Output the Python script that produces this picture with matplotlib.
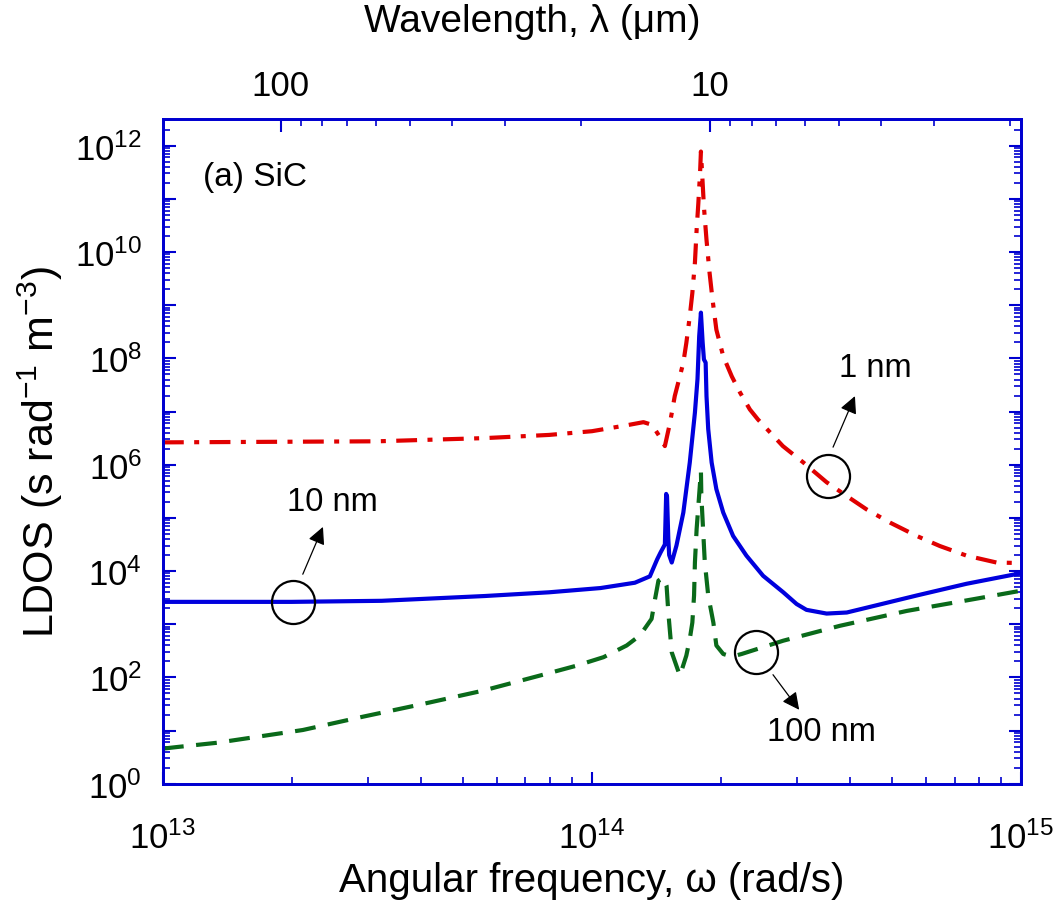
import numpy as np
import matplotlib
matplotlib.use('Agg')
import matplotlib.pyplot as plt
from matplotlib.ticker import FixedLocator, FuncFormatter, NullFormatter, LogLocator

plt.rcParams['font.family'] = ['Liberation Sans', 'DejaVu Sans']
plt.rcParams['mathtext.fontset'] = 'custom'
plt.rcParams['mathtext.rm'] = 'Liberation Sans'
plt.rcParams['mathtext.it'] = 'Liberation Sans:italic'
plt.rcParams['mathtext.bf'] = 'Liberation Sans:bold'

# ---- data: log10(omega [rad/s]) and log10(LDOS [s rad^-1 m^-3]) ----
logw_1nm = [13.0, 13.25, 13.5, 13.75, 13.9, 14.0, 14.08, 14.12, 14.14, 14.16, 14.170,
            14.182, 14.193, 14.201, 14.213, 14.220, 14.228, 14.234, 14.240, 14.244,
            14.248, 14.252, 14.254, 14.258, 14.261, 14.267, 14.274, 14.281, 14.290,
            14.306, 14.326, 14.345, 14.368, 14.387, 14.415, 14.445, 14.493, 14.547,
            14.594, 14.640, 14.695, 14.757, 14.811, 14.873, 14.943, 15.0]
logL_1nm = [6.42, 6.43, 6.44, 6.50, 6.56, 6.63, 6.74, 6.80, 6.75, 6.50, 6.35,
            6.79, 7.29, 7.54, 7.92, 8.29, 8.79, 9.23, 9.80, 10.42,
            10.92, 11.49, 11.89, 11.30, 10.85, 10.23, 9.62, 9.11, 8.54,
            8.04, 7.66, 7.36, 7.04, 6.85, 6.61, 6.35, 6.04, 5.67,
            5.41, 5.16, 4.91, 4.66, 4.47, 4.29, 4.16, 4.15]

logw_10nm = [13.0, 13.3, 13.51, 13.75, 13.9, 14.02, 14.1, 14.135, 14.152, 14.16, 14.17,
             14.173, 14.175, 14.178, 14.18, 14.186, 14.197, 14.213, 14.228, 14.240,
             14.246, 14.250, 14.254, 14.258, 14.261, 14.265, 14.267, 14.271, 14.279,
             14.290, 14.306, 14.329, 14.360, 14.399, 14.446, 14.477, 14.500, 14.547,
             14.594, 14.640, 14.757, 14.873, 15.0]
logL_10nm = [3.42, 3.42, 3.44, 3.53, 3.60, 3.68, 3.78, 3.90, 4.22, 4.35, 4.50,
             5.45, 5.40, 4.60, 4.30, 4.16, 4.48, 5.10, 6.04, 6.98,
             7.61, 8.42, 8.86, 8.30, 7.98, 7.92, 7.29, 6.67, 6.04,
             5.54, 5.10, 4.66, 4.29, 3.91, 3.60, 3.38, 3.27, 3.20,
             3.22, 3.31, 3.54, 3.76, 3.96]

logw_100nm = [13.0, 13.033, 13.126, 13.326, 13.466, 13.606, 13.746, 13.886, 13.964,
              14.027, 14.081, 14.112, 14.139, 14.147, 14.155, 14.166, 14.174, 14.178,
              14.186, 14.205, 14.220, 14.228, 14.234, 14.238, 14.240, 14.244, 14.254,
              14.255, 14.259, 14.263, 14.271, 14.283, 14.290, 14.306, 14.326, 14.349,
              14.446, 14.578, 14.734, 14.889, 15.0]
logL_100nm = [0.66, 0.69, 0.77, 1.01, 1.26, 1.50, 1.75, 2.05, 2.22,
              2.38, 2.60, 2.79, 3.10, 3.47, 3.82, 3.88, 3.72, 3.22,
              2.47, 2.03, 2.41, 2.72, 3.03, 3.54, 4.16, 4.79, 5.88,
              5.41, 4.79, 4.17, 3.54, 3.03, 2.60, 2.44, 2.39, 2.44,
              2.69, 2.97, 3.25, 3.47, 3.63]

wl_major = [100, 10]                      # wavelength ticks (um)
wl_minor = [90, 80, 70, 60, 50, 40, 30, 20, 9, 8, 7, 6, 5, 4, 3, 2]

# annotation anchors (log10 omega, log10 LDOS)
ann_labels = ['10 nm', '1 nm', '100 nm']
ann_circle = [(13.303, 3.42), (14.55, 5.78), (14.382, 2.48)]
ann_tail = [(13.326, 3.94), (14.562, 6.33), (14.422, 2.05)]
ann_tip = [(13.373, 4.83), (14.613, 7.29), (14.483, 1.39)]
ann_text = [(13.396, 5.31), (14.66, 7.83), (14.536, 0.98)]

BLUE = '#0000d0'
C0 = 2.99792458e8

fig = plt.figure(figsize=(10.58, 9.03), dpi=100)
ax = fig.add_axes([0.154, 0.131, 0.811, 0.736])

p = lambda a: np.power(10.0, np.asarray(a))
ax.plot(p(logw_1nm), p(logL_1nm), color='#e00000', lw=3.0,
        linestyle=(0, (5, 2.5, 1.2, 2.5)))
ax.plot(p(logw_10nm), p(logL_10nm), color='#0000dd', lw=3.0, linestyle='-')
ax.plot(p(logw_100nm), p(logL_100nm), color='#0a6a1a', lw=3.0,
        linestyle=(0, (5, 3)))

ax.set_xscale('log')
ax.set_yscale('log')
ax.set_xlim(1e13, 1e15)
ax.set_ylim(1e0, 10 ** 12.5)

ax.xaxis.set_major_locator(FixedLocator([1e13, 1e14, 1e15]))
ax.xaxis.set_minor_locator(LogLocator(base=10, subs=np.arange(2, 10), numticks=50))
ax.xaxis.set_minor_formatter(NullFormatter())
ax.xaxis.set_major_formatter(FuncFormatter(
    lambda v, pos: r'$\mathdefault{10^{%d}}$' % round(np.log10(v))))

ax.yaxis.set_major_locator(FixedLocator([10.0 ** k for k in range(0, 13)]))
ax.yaxis.set_minor_locator(LogLocator(base=10, subs=np.arange(2, 10), numticks=50))
ax.yaxis.set_minor_formatter(NullFormatter())

def yfmt(v, pos):
    e = int(round(np.log10(v)))
    return r'$\mathdefault{10^{%d}}$' % e if e % 2 == 0 else ''
ax.yaxis.set_major_formatter(FuncFormatter(yfmt))

ax.tick_params(which='both', direction='in', color=BLUE, labelcolor='black',
               top=False, right=True, labelsize=25)
ax.tick_params(which='major', length=9, width=1.5)
ax.tick_params(which='minor', length=5, width=1.2)
ax.tick_params(axis='x', which='major', pad=26)
ax.tick_params(axis='y', which='major', pad=15)
for s in ax.spines.values():
    s.set_color(BLUE)
    s.set_linewidth(2.0)

ax2 = ax.twiny()
ax2.set_xscale('log')
ax2.set_xlim(ax.get_xlim())
conv = lambda wl: 2 * np.pi * C0 / (np.asarray(wl, float) * 1e-6)
ax2.xaxis.set_major_locator(FixedLocator(conv(wl_major)))
ax2.xaxis.set_major_formatter(FuncFormatter(
    lambda v, pos: '%d' % round(2 * np.pi * C0 / v * 1e6)))
ax2.xaxis.set_minor_locator(FixedLocator(conv(wl_minor)))
ax2.xaxis.set_minor_formatter(NullFormatter())
ax2.tick_params(which='both', direction='in', color=BLUE, labelcolor='black',
                labelsize=25)
ax2.tick_params(which='major', length=9, width=1.5, pad=12)
ax2.tick_params(which='minor', length=5, width=1.2)
for s in ax2.spines.values():
    s.set_color(BLUE)
    s.set_linewidth(2.0)

ax.set_xlabel('Angular frequency, ω (rad/s)', fontsize=29)
ax.xaxis.set_label_coords(0.5, -0.145)
ax.xaxis.label.set_va('center')
ax2.set_xlabel('Wavelength, λ (μm)', fontsize=28)
ax2.xaxis.set_label_coords(0.43, 1.147)
ax2.xaxis.label.set_va('center')
ax.set_ylabel(r'LDOS (s rad$^{-1}$ m$^{-3}$)', fontsize=31)
ax.yaxis.set_label_coords(-0.143, 0.5)
ax.yaxis.label.set_va('center')

ax.text(0.047, 0.914, '(a) SiC', transform=ax.transAxes, fontsize=24,
        ha='left', va='center')

for lab, c, t0, t1, tx in zip(ann_labels, ann_circle, ann_tail, ann_tip, ann_text):
    ax.plot([10 ** c[0]], [10 ** c[1]], marker='o', markersize=31,
            markerfacecolor='none', markeredgecolor='black', markeredgewidth=1.6)
    ax.annotate('', xy=(10 ** t1[0], 10 ** t1[1]), xytext=(10 ** t0[0], 10 ** t0[1]),
                arrowprops=dict(arrowstyle='-|>', color='black', lw=0.9,
                                mutation_scale=26, shrinkA=0, shrinkB=0))
    ax.text(10 ** tx[0], 10 ** tx[1], lab, fontsize=23.5, ha='center', va='center')

fig.savefig('out.png', dpi=100)
